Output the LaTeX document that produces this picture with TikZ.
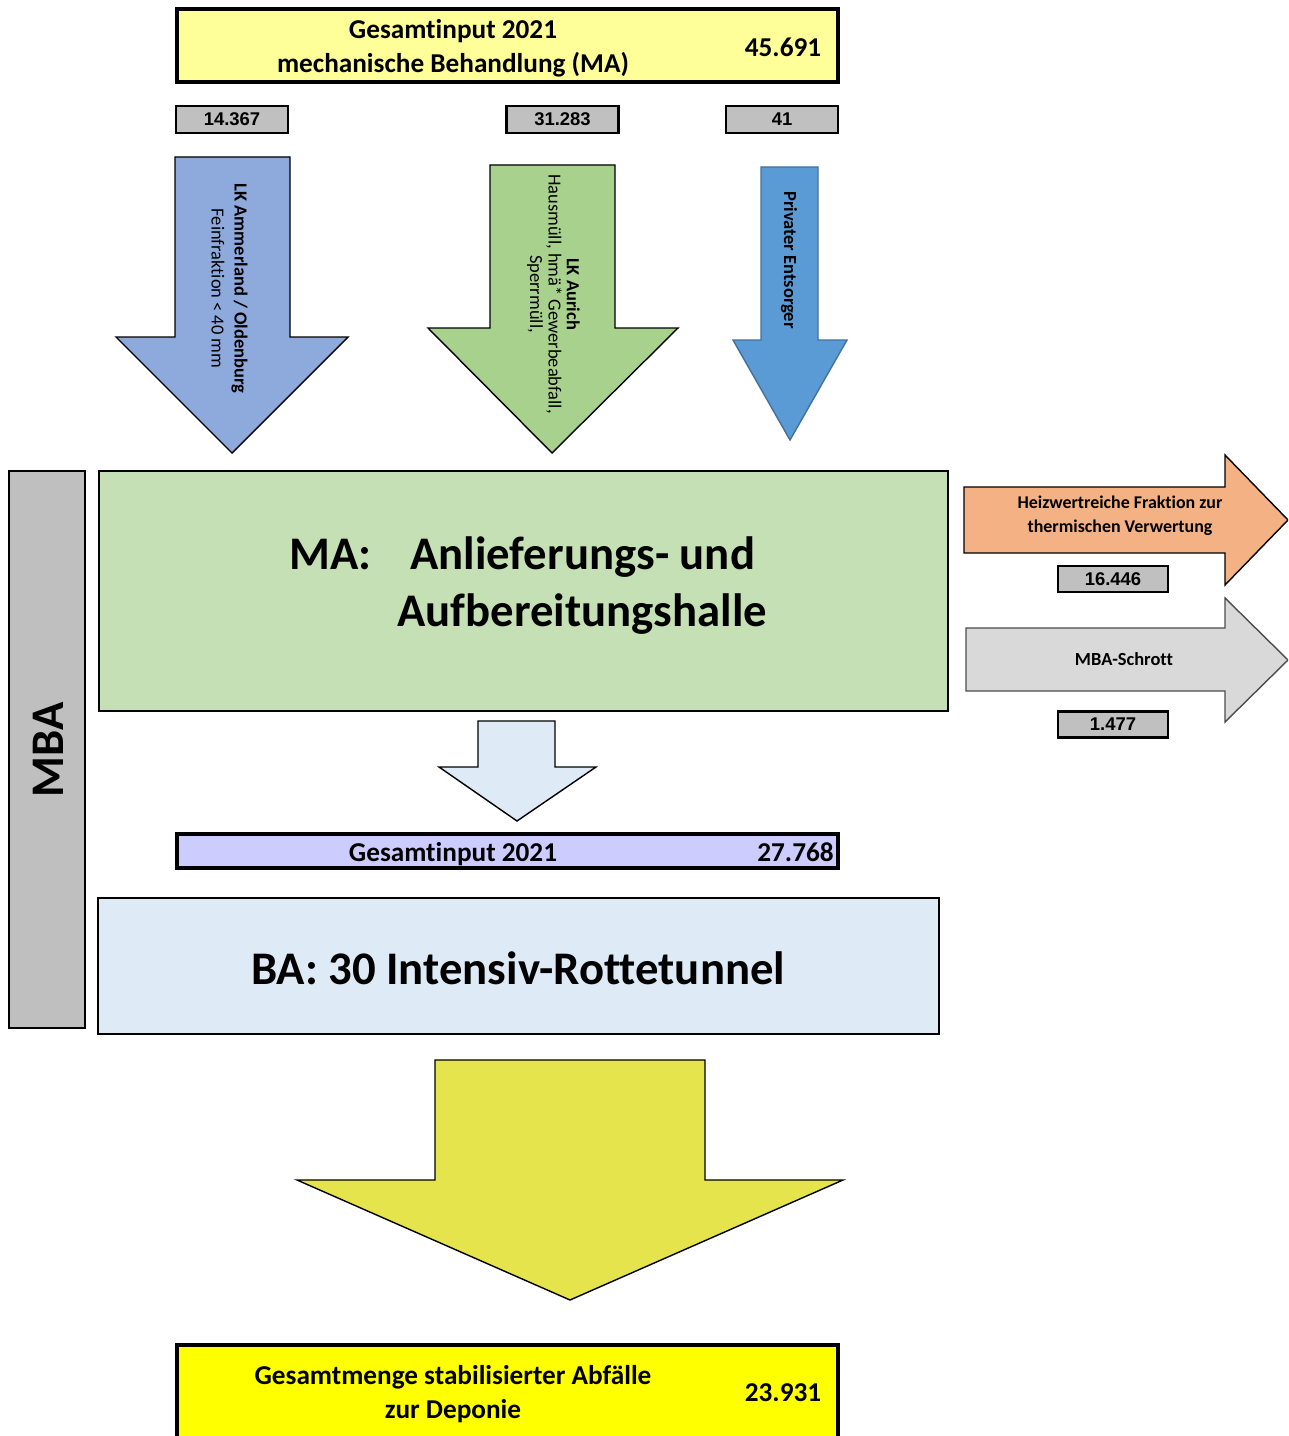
\documentclass[tikz,border=0pt]{standalone}
\usepackage{fontspec}
\setmainfont{Carlito}[Ligatures=NoCommon]
\newfontfamily\arialfont{Liberation Sans}
\usepackage{xcolor}
\usepackage{tikz}
\definecolor{inputyellow}{RGB}{255,255,153}
\definecolor{numgrey}{RGB}{192,192,192}
\definecolor{ammblue}{RGB}{142,169,219}
\definecolor{aurgreen}{RGB}{169,209,142}
\definecolor{privblue}{RGB}{91,155,213}
\definecolor{privedge}{RGB}{65,113,156}
\definecolor{mbagrey}{RGB}{191,191,191}
\definecolor{magreen}{RGB}{197,224,180}
\definecolor{palblue}{RGB}{222,235,247}
\definecolor{inputlilac}{RGB}{204,204,255}
\definecolor{rotteyellow}{RGB}{229,228,77}
\definecolor{deponieyellow}{RGB}{255,255,0}
\definecolor{heizorange}{RGB}{244,177,131}
\definecolor{schrottgrey}{RGB}{217,217,217}

\begin{document}
\begin{tikzpicture}[x=0.02cm,y=-0.02cm,
    sumbox/.style={draw=black,line width=1.8pt,minimum width=13.22cm,inner sep=0pt},
    sumtxt/.style={font=\bfseries\fontsize{15.5}{19.3}\selectfont,align=center,inner sep=0pt},
    numbox/.style={draw=black,line width=1.6pt,fill=numgrey,minimum width=2.24cm,
                   minimum height=0.54cm,inner sep=0pt,font=\arialfont\bfseries\fontsize{10.5}{12}\selectfont},
    hall/.style={draw=black,line width=1.4pt,inner sep=0pt},
    halltxt/.style={font=\bfseries\fontsize{26.6}{32}\selectfont,inner sep=0pt},
    blockar/.style={draw=black,line width=0.8pt},
    artxt/.style={font=\fontsize{10.5}{13}\selectfont,align=center,inner sep=0pt}]
  \useasboundingbox (0,0) rectangle (1288,1436);
  \clip (0,0) rectangle (1288,1436);
  \node[sumbox,fill=inputyellow,minimum height=1.46cm] (gesamt) at (507.5,45.5) {};
  \node[sumtxt] (gesamttxt) at (453,48) {Gesamtinput 2021\\mechanische Behandlung (MA)};
  \node[sumtxt] (gesamtval) at (783,47) {45.691};
  \node[numbox] (ammval) at (232,119.5) {14.367};
  \node[numbox] (aurval) at (562.5,119.5) {31.283};
  \node[numbox] (privval) at (782,119.5) {41};
  \fill[ammblue,blockar] (175,157) -- (290,157) -- (290,337) -- (348,337) -- (232,453) -- (116,337) -- (175,337) -- cycle;
  \node[artxt,rotate=-90] (ammtxt) at (229.5,288.5) {\textbf{LK Ammerland / Oldenburg}\\Feinfraktion < 40 mm};
  \fill[aurgreen,blockar] (490,165) -- (615,165) -- (615,328) -- (678,328) -- (552,453) -- (428,328) -- (490,328) -- cycle;
  \node[artxt,rotate=-90,font=\fontsize{10.5}{10.5}\selectfont] (aurtxt) at (553.5,294) {\textbf{LK Aurich}\\Hausmüll, hmä* Gewerbeabfall,\\Sperrmüll,};
  \fill[privblue,draw=privedge,line width=0.8pt] (761,167) -- (818,167) -- (818,340) -- (847,340) -- (790,440) -- (733,340) -- (761,340) -- cycle;
  \node[artxt,rotate=-90,font=\bfseries\fontsize{10.5}{13}\selectfont] (privtxt) at (789,260) {Privater Entsorger};
  \node[hall,fill=mbagrey,minimum width=1.52cm,minimum height=11.14cm] (mba) at (47,749.5) {};
  \node[halltxt,rotate=90] (mbatxt) at (48,750) {MBA};
  \node[hall,fill=magreen,minimum width=16.98cm,minimum height=4.8cm] (ma) at (523.5,591) {};
  \node[halltxt,anchor=base west] (matxt) at (289,569) {MA:};
  \node[halltxt,anchor=base west] (maline1) at (410,569) {Anlieferungs- und};
  \node[halltxt,anchor=base west] (maline2) at (397,626) {Aufbereitungshalle};
  \fill[heizorange,blockar] (964,487) -- (1225,487) -- (1225,455) -- (1288,520) -- (1225,585) -- (1225,553) -- (964,553) -- cycle;
  \node[artxt,font=\bfseries\fontsize{10.2}{13.6}\selectfont] (heiztxt) at (1120,516) {Heizwertreiche Fraktion zur\\thermischen Verwertung};
  \node[numbox,minimum width=2.2cm,minimum height=0.52cm] (heizval) at (1113,579) {16.446};
  \fill[schrottgrey,draw=black!70,line width=0.8pt] (966,628) -- (1225,628) -- (1225,598) -- (1288,660) -- (1225,722) -- (1225,691) -- (966,691) -- cycle;
  \node[artxt,font=\bfseries\fontsize{10.5}{13}\selectfont] (schrotttxt) at (1124,659) {MBA-Schrott};
  \node[numbox,minimum width=2.2cm,minimum height=0.52cm] (schrottval) at (1113,724.5) {1.477};
  \fill[palblue,blockar] (478,721) -- (555,721) -- (555,767) -- (596,767) -- (517,821) -- (439,767) -- (478,767) -- cycle;
  \node[sumbox,fill=inputlilac,minimum height=0.68cm] (bainput) at (507.5,851) {};
  \node[sumtxt,anchor=base] (bainputtxt) at (453,861) {Gesamtinput 2021};
  \node[sumtxt,anchor=base east] (bainputval) at (834,861) {27.768};
  \node[hall,fill=palblue,minimum width=16.82cm,minimum height=2.72cm] (ba) at (518.5,966) {};
  \node[halltxt] (batxt) at (518,968) {BA: 30 Intensiv-Rottetunnel};
  \fill[rotteyellow,blockar] (435,1060) -- (705,1060) -- (705,1180) -- (843,1180) -- (570,1300) -- (297,1180) -- (435,1180) -- cycle;
  \node[sumbox,fill=deponieyellow,minimum height=2.0cm] (deponie) at (507.5,1395) {};
  \node[sumtxt] (deponietxt) at (453,1394) {Gesamtmenge stabilisierter Abfälle\\zur Deponie};
  \node[sumtxt] (deponieval) at (783,1393) {23.931};
\end{tikzpicture}
\end{document}
